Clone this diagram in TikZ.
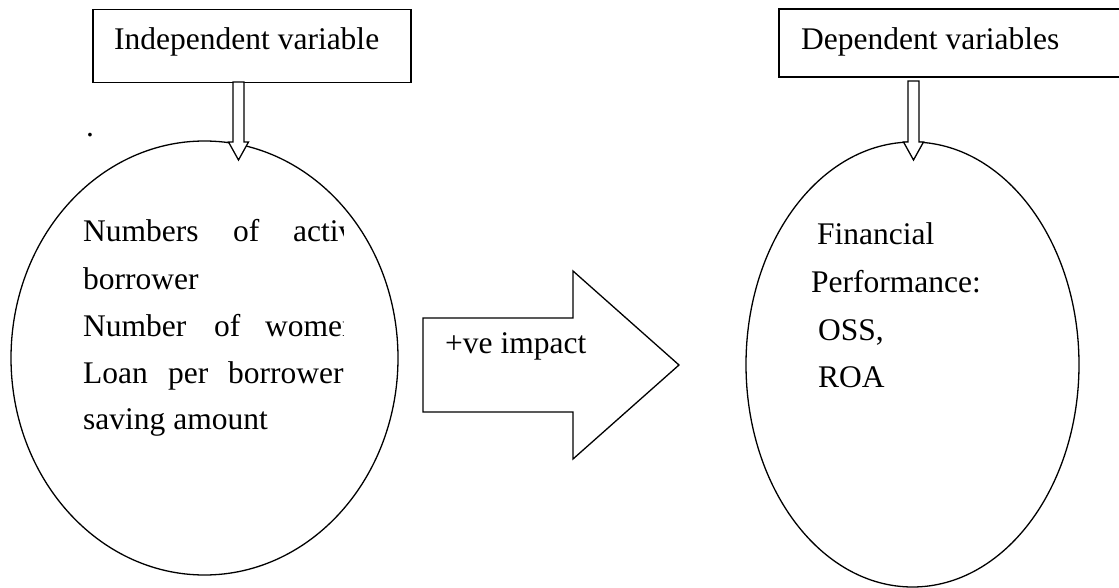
\documentclass[tikz,border=0pt]{standalone}
\usepackage{fontspec}
\setmainfont{Liberation Serif}
\begin{document}
\begin{tikzpicture}[x=1pt,y=-1pt,
  boxst/.style={draw, line width=1.7pt, rectangle, inner sep=0pt},
  ovalst/.style={draw, line width=1.3pt},
  blockarrow/.style={draw, line width=1.3pt, fill=white, line join=miter},
  txt/.style={anchor=base west, inner sep=0pt, font=\fontsize{31.5}{38}\selectfont}]
\useasboundingbox (0,0) rectangle (1119,588);
\clip (0,0) rectangle (1119,588);
\fill[white] (0,0) rectangle (1119,588);

% header boxes
\node[boxst, minimum width=318pt, minimum height=73pt] (lbox) at (252,46) {};
\node[boxst, minimum width=356pt, minimum height=68pt] (rbox) at (957,43) {};
\node[txt] (ltitle) at (114,50) {Independent variable};
\node[txt] (rtitle) at (801,50) {Dependent variables};

% ellipses
\draw[ovalst] (204.5,358) ellipse [x radius=193.5, y radius=217];
\draw[ovalst] (912.5,364.5) ellipse [x radius=166.5, y radius=222.5];

% down block arrows
\draw[blockarrow] (233,82) -- (244,82) -- (244,142) -- (248.5,142) -- (238.5,160)
  -- (228.5,142) -- (233,142) -- cycle;
\draw[blockarrow] (908,81) -- (919,81) -- (919,142) -- (923.5,142) -- (913.5,160)
  -- (903.5,142) -- (908,142) -- cycle;

% big right arrow
\draw[blockarrow] (423,318) -- (573,318) -- (573,271) -- (679,365) -- (573,459)
  -- (573,412) -- (423,412) -- cycle;
\node[txt] (impact) at (445,353) {+ve impact};

% stray dot
\node[txt] (dot) at (86,137) {.};

% left ellipse text (justified, clipped)
\begin{scope}
\clip (80,200) rectangle (343,445);
\node[txt] (a1) at (83,242) {Numbers};
\node[txt] (a2) at (233,242) {of};
\node[txt] (a3) at (293,242) {active};
\node[txt] (b1) at (83,289) {borrower};
\node[txt] (c1) at (83,336) {Number};
\node[txt] (c2) at (214,336) {of};
\node[txt] (c3) at (265,336) {women};
\node[txt] (d1) at (83,383) {Loan};
\node[txt] (d2) at (168,383) {per};
\node[txt] (d3) at (228,383) {borrower};
\node[txt] (e1) at (83,429) {saving amount};
\end{scope}

% right ellipse text
\node[txt] (f1) at (817,244) {Financial};
\node[txt] (f2) at (811,292) {Performance:};
\node[txt] (f3) at (818,340) {OSS,};
\node[txt] (f4) at (818,387) {ROA};
\end{tikzpicture}
\end{document}
